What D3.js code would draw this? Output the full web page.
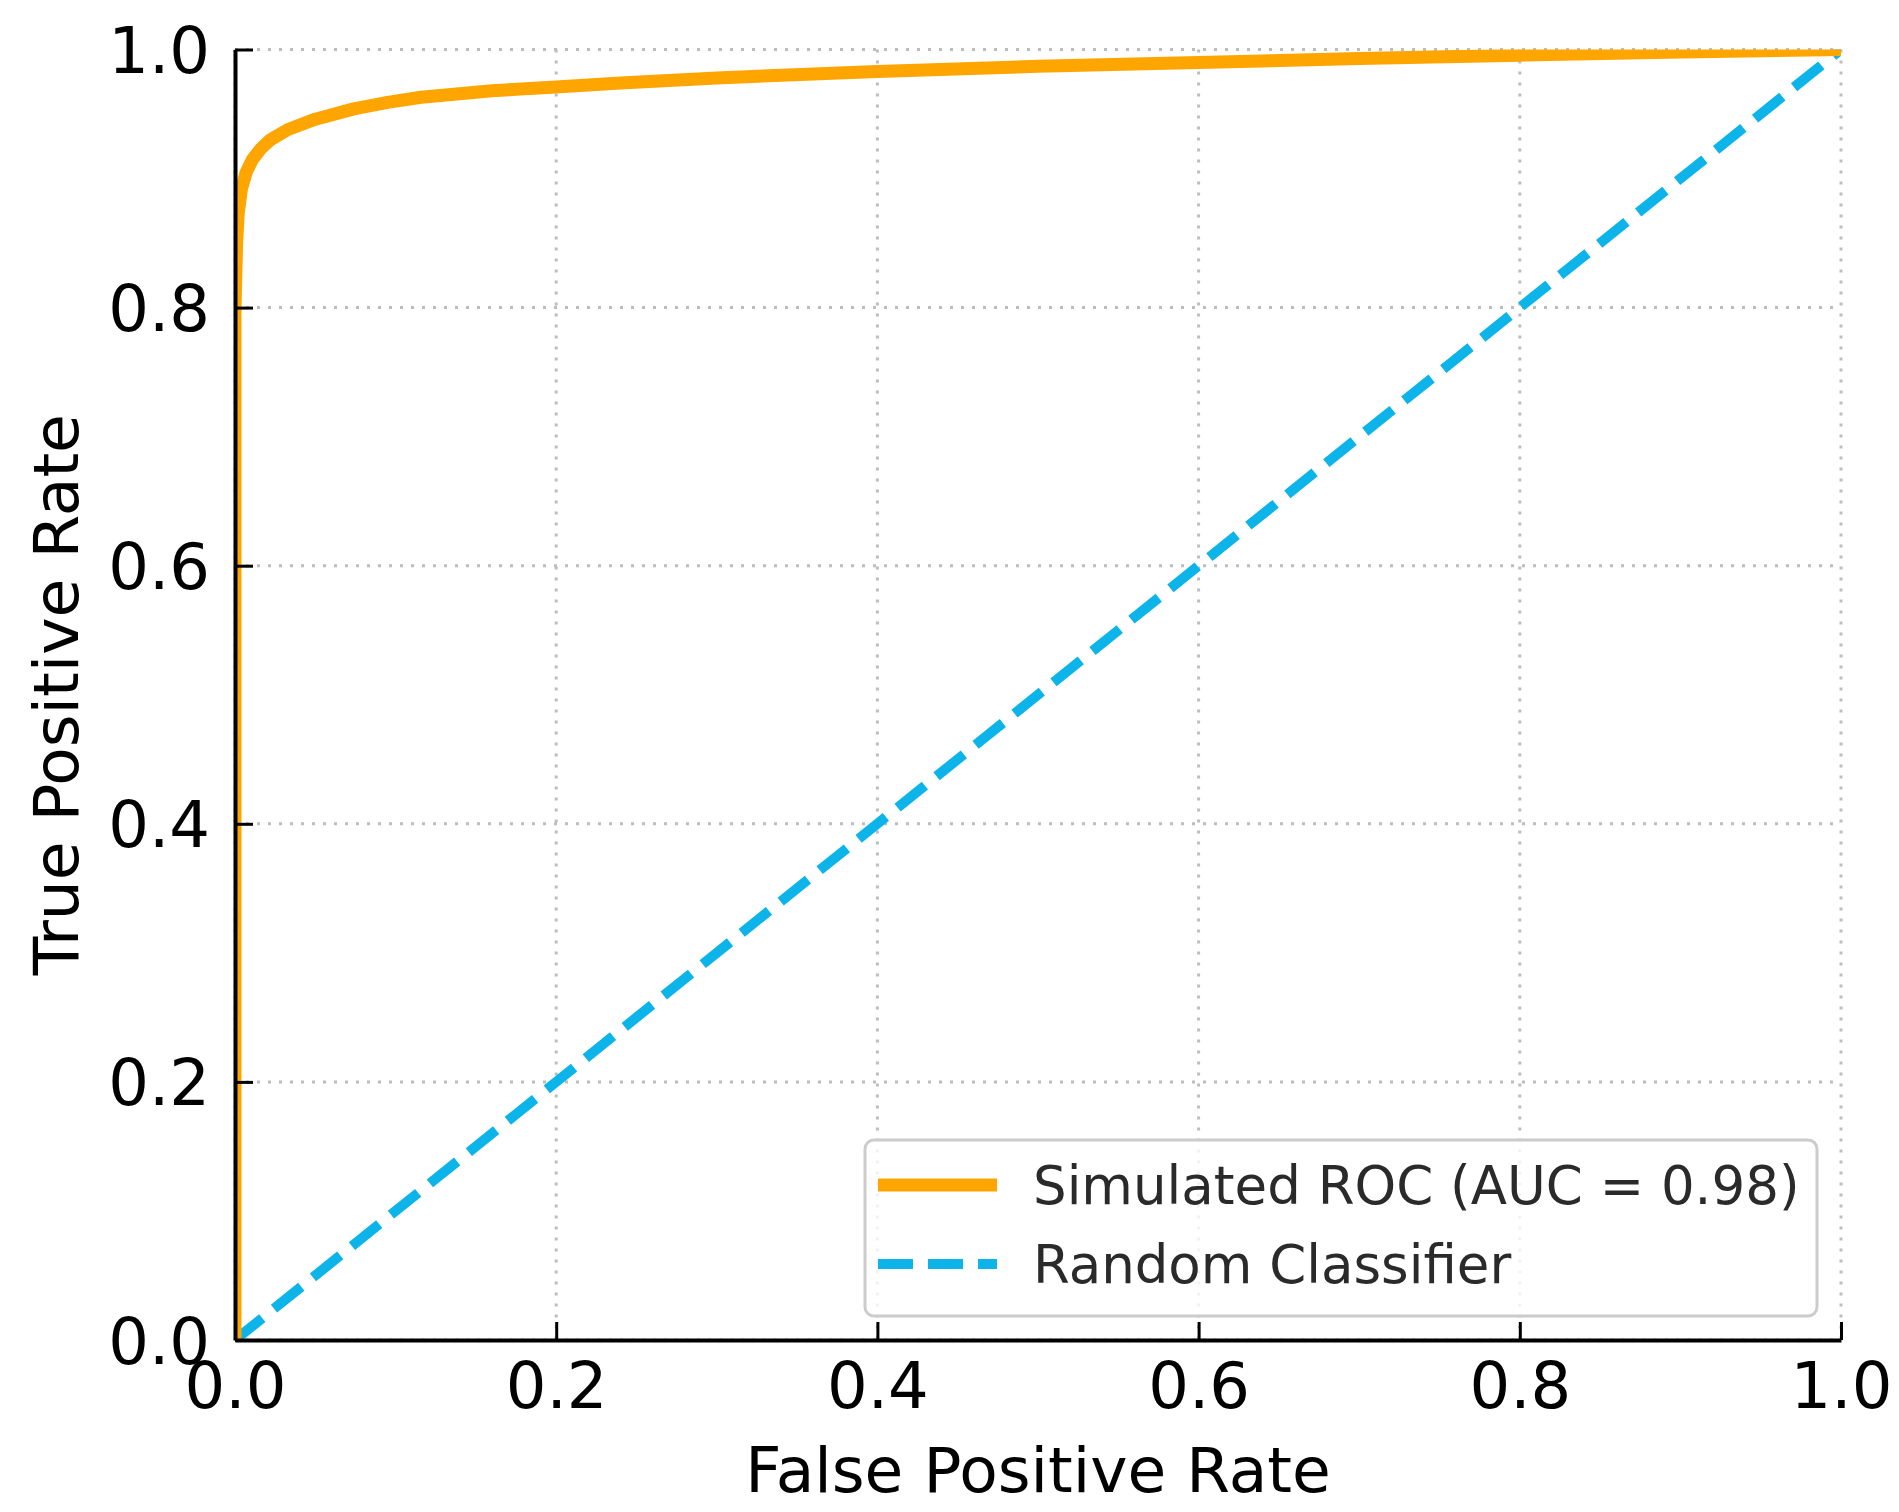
<!DOCTYPE html>
<html>
<head>
<meta charset="utf-8">
<script src="https://cdn.jsdelivr.net/npm/d3@7"></script>
<style>
	body { margin: 0; background: #fff; }
	svg { display: block; font-family: 'DejaVu Sans', sans-serif; }
</style>
</head>
<body>
<svg id="chart"></svg>
<script>
const fpr = [0, 0, 0.001, 0.002, 0.004, 0.007, 0.011, 0.016, 0.022, 0.033, 0.05, 0.074, 0.095, 0.116, 0.16, 0.2, 0.24, 0.3, 0.4, 0.5, 0.6, 0.7, 0.8, 0.9, 1.0];
const tpr = [0, 0.80, 0.85, 0.873, 0.892, 0.905, 0.915, 0.923, 0.93, 0.938, 0.946, 0.954, 0.959, 0.963, 0.968, 0.971, 0.974, 0.978, 0.983, 0.987, 0.990, 0.993, 0.9956, 0.998, 1.0];
const diagonal = [0, 1];
const ticks = [0, 0.2, 0.4, 0.6, 0.8, 1.0];
const legendLabels = ['Simulated ROC (AUC = 0.98)', 'Random Classifier'];
const colors = ['#ffa500', '#0cb4e9'];

const width = 1899;
const height = 1512;
const margin = { top: 49.5, right: 58, bottom: 172, left: 235 };
const innerW = width - margin.left - margin.right;
const innerH = height - margin.top - margin.bottom;

const svg = d3.select('#chart')
	.attr('width', width)
	.attr('height', height);

const x = d3.scaleLinear().domain([0, 1]).range([0, innerW]);
const y = d3.scaleLinear().domain([0, 1]).range([innerH, 0]);

svg.append('defs').append('clipPath')
	.attr('id', 'plot-clip')
	.append('rect')
		.attr('width', innerW)
		.attr('height', innerH);

const g = svg.append('g')
	.attr('transform', `translate(${ margin.left }, ${ margin.top })`);

// dotted grid
g.append('g')
	.selectAll('line.gx')
	.data(ticks)
	.join('line')
		.attr('x1', (d) => x(d)).attr('x2', (d) => x(d))
		.attr('y1', 0).attr('y2', innerH)
		.attr('stroke', '#bdbdbd')
		.attr('stroke-width', 3)
		.attr('stroke-dasharray', '3,8');
g.append('g')
	.selectAll('line.gy')
	.data(ticks)
	.join('line')
		.attr('y1', (d) => y(d)).attr('y2', (d) => y(d))
		.attr('x1', 0).attr('x2', innerW)
		.attr('stroke', '#bdbdbd')
		.attr('stroke-width', 3)
		.attr('stroke-dasharray', '3,8');

const plot = g.append('g').attr('clip-path', 'url(#plot-clip)');

const rocData = fpr.map((f, i) => ({ x: f, y: tpr[i] }));
const line = d3.line()
	.x((d) => x(d.x))
	.y((d) => y(d.y));

plot.append('path')
	.datum(diagonal.map((d) => ({ x: d, y: d })))
	.attr('fill', 'none')
	.attr('stroke', colors[1])
	.attr('stroke-width', 10)
	.attr('stroke-dasharray', '35,15')
	.attr('d', line);

plot.append('path')
	.datum(rocData)
	.attr('fill', 'none')
	.attr('stroke', colors[0])
	.attr('stroke-width', 13)
	.attr('stroke-linejoin', 'round')
	.attr('d', line);

// axes: ticks point inward, only left and bottom spines
const xAxis = g.append('g')
	.attr('transform', `translate(0, ${ innerH })`)
	.call(d3.axisBottom(x).tickValues(ticks).tickFormat(d3.format('.1f')).tickSizeInner(-18).tickSizeOuter(0).tickPadding(45));
const yAxis = g.append('g')
	.call(d3.axisLeft(y).tickValues(ticks).tickFormat(d3.format('.1f')).tickSizeInner(-18).tickSizeOuter(0).tickPadding(25));

[xAxis, yAxis].forEach((a) => {
	a.select('.domain').attr('stroke', '#000').attr('stroke-width', 4);
	a.selectAll('.tick line').attr('stroke', '#000').attr('stroke-width', 3);
	a.selectAll('.tick text')
		.attr('fill', '#000')
		.style('font-size', '64px')
		.style('font-family', "'DejaVu Sans', sans-serif");
});
xAxis.selectAll('.tick text').attr('dy', null).attr('y', 68);
yAxis.selectAll('.tick text').attr('dy', '0.36em');

// axis labels
g.append('text')
	.attr('x', innerW / 2)
	.attr('y', innerH + 152)
	.attr('text-anchor', 'middle')
	.style('font-size', '63px')
	.attr('fill', '#000')
	.text('False Positive Rate');
g.append('text')
	.attr('transform', `translate(${ 78 - margin.left }, ${ innerH / 2 }) rotate(-90)`)
	.attr('text-anchor', 'middle')
	.style('font-size', '63px')
	.attr('fill', '#000')
	.text('True Positive Rate');

// legend
const legend = svg.append('g')
	.attr('transform', 'translate(865, 1140)');
legend.append('rect')
	.attr('width', 952)
	.attr('height', 176)
	.attr('rx', 9)
	.attr('fill', '#fff')
	.attr('fill-opacity', 0.8)
	.attr('stroke', '#cccccc')
	.attr('stroke-width', 3);

const rows = legend.selectAll('g.row')
	.data(legendLabels)
	.join('g')
		.attr('transform', (d, i) => `translate(0, ${ 45 + i * 79 })`);
rows.append('line')
	.attr('x1', 13).attr('x2', 132)
	.attr('stroke', (d, i) => colors[i])
	.attr('stroke-width', (d, i) => i ? 10 : 13)
	.attr('stroke-dasharray', (d, i) => i ? '35,15' : null);
rows.append('text')
	.attr('x', 168)
	.attr('y', 19)
	.attr('fill', '#2a2a2a')
	.style('font-size', '53px')
	.text((d) => d);
</script>
</body>
</html>
